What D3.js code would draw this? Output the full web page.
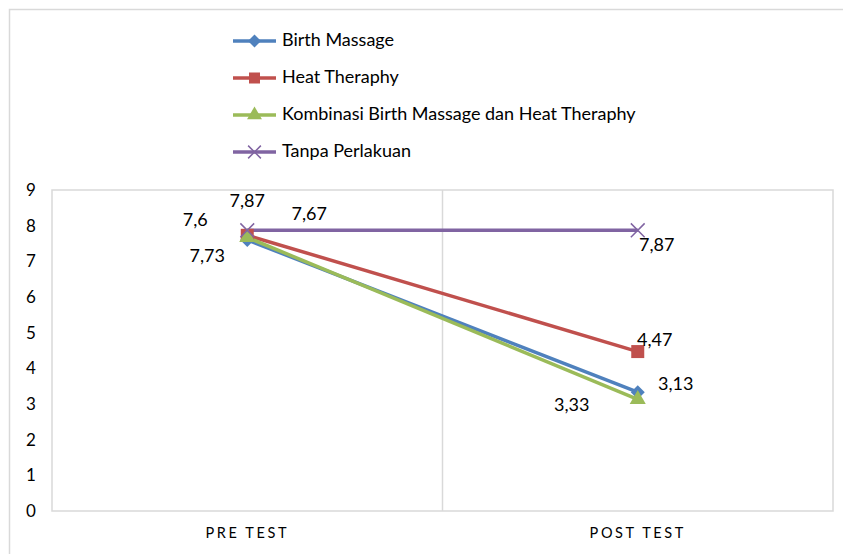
<!DOCTYPE html>
<html>
<head>
<meta charset="utf-8">
<script src="https://cdn.jsdelivr.net/npm/d3@7"></script>
<style>
  body { margin: 0; background: #fff; }
  text { font-family: Lato, "Open Sans", sans-serif; fill: #000; }
</style>
</head>
<body>
<script>
const categories = ["PRE TEST", "POST TEST"];
const seriesNames = ["Birth Massage", "Heat Theraphy", "Kombinasi Birth Massage dan Heat Theraphy", "Tanpa Perlakuan"];
const birthMassage = [7.6, 3.33];
const heatTheraphy = [7.73, 4.47];
const kombinasi = [7.67, 3.13];
const tanpaPerlakuan = [7.87, 7.87];
const yTicks = [0, 1, 2, 3, 4, 5, 6, 7, 8, 9];

const w = 843, h = 554;
const colors = ["#4F81BD", "#C0504D", "#9BBB59", "#8064A2"];
const markers = ["diamond", "square", "triangle", "cross"];
// label offsets (dx, dy) relative to each point
const labelPos = [
    [[-52, -18], [-66, 14]],
    [[-40, 22], [17, -10]],
    [[62, -22], [38, -14]],
    [[0, -28], [19, 16]]
];

const series = [birthMassage, heatTheraphy, kombinasi, tanpaPerlakuan].map((v, i) => ({
    name: seriesNames[i], values: v, color: colors[i], marker: markers[i], labels: labelPos[i]
}));

const svg = d3.select("body").append("svg")
    .attr("width", w).attr("height", h);

// chart frame
svg.append("rect")
    .attr("x", 9.5).attr("y", 9.5)
    .attr("width", 850).attr("height", 560)
    .attr("fill", "none").attr("stroke", "#d9d9d9").attr("stroke-width", 1.5);

const plot = { left: 52, right: 833, top: 190, bottom: 511 };

const x = d3.scaleBand().domain(categories).range([plot.left, plot.right]);
const y = d3.scaleLinear().domain([0, 9]).range([plot.bottom, plot.top]);

// plot border
svg.append("rect")
    .attr("x", plot.left).attr("y", plot.top)
    .attr("width", plot.right - plot.left).attr("height", plot.bottom - plot.top)
    .attr("fill", "none").attr("stroke", "#d9d9d9").attr("stroke-width", 1.5);

// category divider
svg.append("line")
    .attr("x1", x("POST TEST")).attr("x2", x("POST TEST"))
    .attr("y1", plot.top).attr("y2", plot.bottom)
    .attr("stroke", "#d9d9d9").attr("stroke-width", 1.5);

// y axis labels
const yAxis = d3.axisLeft(y).tickValues(yTicks).tickSize(0).tickPadding(17);
svg.append("g")
    .attr("transform", "translate(" + plot.left + ",0)")
    .call(yAxis)
    .call(g => g.select(".domain").remove())
    .selectAll("text")
    .style("font-size", "17px")
    .attr("text-anchor", "middle")
    .attr("dx", "-4");

// x axis labels
const xAxis = d3.axisBottom(x).tickSize(0).tickPadding(17);
svg.append("g")
    .attr("transform", "translate(0," + plot.bottom + ")")
    .call(xAxis)
    .call(g => g.select(".domain").remove())
    .selectAll("text")
    .style("font-size", "14.5px")
    .style("letter-spacing", "2.6px")
    .attr("fill", "#404040");

const line = d3.line()
    .x((d, i) => x(categories[i]) + x.bandwidth() / 2)
    .y(d => y(d));

function drawMarker(g, type, color, cx, cy, s) {
    if (type === "diamond") {
        g.append("path").attr("d", d3.symbol(d3.symbolDiamond2, s * 9)())
            .attr("transform", "translate(" + cx + "," + cy + ")").attr("fill", color);
    } else if (type === "square") {
        g.append("rect").attr("x", cx - s / 2).attr("y", cy - s / 2)
            .attr("width", s).attr("height", s).attr("fill", color);
    } else if (type === "triangle") {
        g.append("path").attr("d", d3.symbol(d3.symbolTriangle, s * 8)())
            .attr("transform", "translate(" + cx + "," + cy + ")").attr("fill", color);
    } else {
        g.append("path").attr("d", d3.symbol(d3.symbolTimes, s * 9)())
            .attr("transform", "translate(" + cx + "," + cy + ")")
            .attr("fill", "none").attr("stroke", color).attr("stroke-width", 1.5);
    }
}

// draw series: lines first in order, then markers
series.forEach(s => {
    svg.append("path")
        .datum(s.values)
        .attr("d", line)
        .attr("fill", "none")
        .attr("stroke", s.color)
        .attr("stroke-width", 3.5);
});
series.forEach(s => {
    const g = svg.append("g");
    s.values.forEach((v, i) => {
        const cx = x(categories[i]) + x.bandwidth() / 2;
        drawMarker(g, s.marker, s.color, cx, y(v), s.marker === "square" ? 13 : 14);
    });
});

// data labels
series.forEach(s => {
    s.values.forEach((v, i) => {
        const cx = x(categories[i]) + x.bandwidth() / 2;
        svg.append("text")
            .attr("x", cx + s.labels[i][0])
            .attr("y", y(v) + s.labels[i][1])
            .attr("text-anchor", "middle")
            .attr("dominant-baseline", "middle")
            .style("font-size", "18px")
            .text(String(v).replace(".", ","));
    });
});

// legend
const legend = svg.append("g").attr("transform", "translate(233,41)");
series.forEach((s, i) => {
    const row = legend.append("g").attr("transform", "translate(0," + (i * 37) + ")");
    row.append("line").attr("x1", 0).attr("x2", 43).attr("y1", 0).attr("y2", 0)
        .attr("stroke", s.color).attr("stroke-width", 3.5);
    drawMarker(row, s.marker, s.color, 21.5, 0, s.marker === "square" ? 11 : 12);
    row.append("text").attr("x", 49).attr("y", 0)
        .attr("dominant-baseline", "middle")
        .style("font-size", "18px")
        .text(s.name);
});
</script>
</body>
</html>
